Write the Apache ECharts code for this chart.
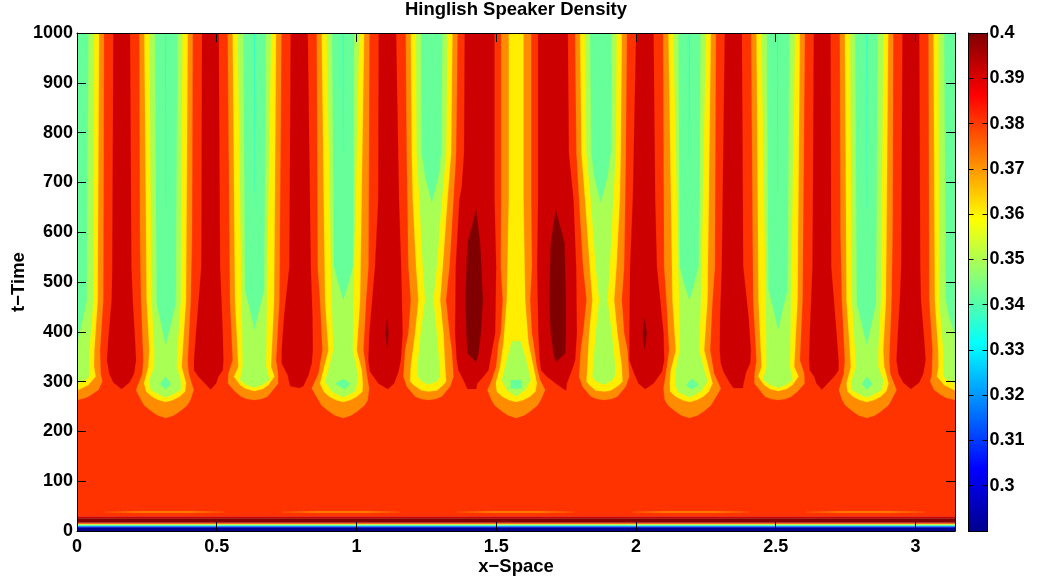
<!DOCTYPE html>
<html><head><meta charset="utf-8">
<style>html,body{margin:0;padding:0;background:#fff}#c{width:1050px;height:583px}</style>
<script src="https://cdn.jsdelivr.net/npm/echarts@6/dist/echarts.min.js"></script>
</head><body><div id="c"></div>
<script>
const titleText = 'Hinglish Speaker Density';
const xName = 'x\u2212Space';
const yName = 't\u2212Time';
const xMax = Math.PI;
const yMax = 1000;
const colorbarMin = 0.29;
const colorbarMax = 0.4;

// contour level colours
const cNavy='#00008c', cRed='#ff3300', cDark='#cc0000', cDarkest='#800000', cOrange='#ff8c00',
      cYellow='#ffee00', cGreen='#aaff55', cMint='#66ff99', cCyan='#22ffdd';

// jet colour stops of the colour bar
const jetStops = [[0,'#00008f'],[0.125,'#0000ff'],[0.375,'#00ffff'],[0.625,'#ffff00'],[0.875,'#ff0000'],[1,'#800000']];

// horizontal layers near t = 0: [tLow, tHigh, colour]
const bottomBands = [
 [0,7.4,cNavy],[7.4,8.4,'#0000ff'],[8.4,9.4,'#0055ff'],[9.4,10.4,'#00aaff'],[10.4,11.4,cCyan],
 [11.4,12.4,cMint],[12.4,13.4,cGreen],[13.4,14.4,cYellow],[14.4,15.2,cOrange],[15.2,16.9,cRed],
 [16.9,25.5,cDarkest],[25.5,29.6,cDark],[29.6,1000,cRed]
];

// thin lenses of orange at t ~ 38: rows [t, xLeft, xRight]
const lensRegions = [
 [[36.4,0.23,0.40],[38,0.1002,0.5297],[39.8,0.23,0.40]],
 [[36.4,0.86,1.03],[38,0.7326,1.156],[39.8,0.86,1.03]],
 [[36.4,1.49,1.65],[38,1.359,1.7806],[39.8,1.49,1.65]],
 [[36.4,2.11,2.28],[38,1.9853,2.4087],[39.8,2.11,2.28]],
 [[36.4,2.74,2.90],[38,2.609,3.035],[39.8,2.74,2.90]]
];

// each region: rows of [t, xLeft, xRight]
const orangeRegions = [
 [[1000,0,.0966],[464,0,.094],[363,0,.0823],[316,0,.0847],[300,0,.0907],[283,0,.0764],[273,0,.05],[267,0,.03],[263,0,0]],
 [[1000,.2231,.414],[598,.2255,.4116],[464,.2291,.4068],[343,.2374,.3961],[316,.2338,.3997],[283,.2112,.4176],[263,.2291,.4057],[252,.241,.3938],[240,.2673,.3675],[232,.2888,.346],[227,.3174,.3174]],
 [[1000,.5393,.7313],[464,.5476,.7242],[343,.5571,.7122],[316,.5416,.7194],[296,.5404,.7194],[280,.5655,.6967],[270,.587,.6824],[265,.6087,.6607],[263,.6347,.6347]],
 [[1000,.8578,1.0463],[530,.8614,1.0427],[464,.8697,1.0344],[363,.8781,1.0248],[316,.8638,1.0367],[286,.8399,1.0451],[263,.8637,1.0403],[252,.8756,1.0284],[240,.9019,1.0021],[232,.9234,.9806],[227,.952,.952]],
 [[1000,1.1763,1.3613],[759,1.1799,1.3565],[665,1.1823,1.347],[531,1.1859,1.3327],[464,1.1943,1.3204],[397,1.1859,1.3327],[363,1.174,1.341],[310,1.168,1.347],[290,1.1799,1.3351],[270,1.2098,1.3052],[265,1.2315,1.2835],[263,1.2575,1.2575]],
 [[1000,1.5176,1.6249],[665,1.5176,1.6249],[531,1.5164,1.6273],[464,1.5235,1.6213],[397,1.5164,1.6273],[377,1.508,1.6333],[330,1.5,1.6453],[303,1.4841,1.6572],[283,1.4686,1.6751],[263,1.4829,1.6595],[252,1.4948,1.6476],[240,1.5211,1.6213],[232,1.5426,1.5998],[227,1.5712,1.5712]],
 [[1000,1.7823,1.9673],[759,1.7871,1.9637],[665,1.7966,1.9613],[531,1.8109,1.9577],[464,1.8232,1.9493],[397,1.8109,1.9577],[363,1.8026,1.9696],[310,1.7966,1.9756],[290,1.8085,1.9637],[270,1.8384,1.9338],[265,1.8601,1.9121],[263,1.8861,1.8861]],
 [[1000,2.0973,2.2858],[530,2.1009,2.2822],[464,2.1092,2.2739],[363,2.1188,2.2655],[316,2.1069,2.2798],[286,2.0985,2.3037],[263,2.1033,2.2799],[252,2.1152,2.268],[240,2.1415,2.2417],[232,2.163,2.2202],[227,2.1916,2.1916]],
 [[1000,2.4123,2.6043],[464,2.4194,2.596],[343,2.4314,2.5865],[316,2.4242,2.602],[296,2.4242,2.6032],[280,2.4469,2.5781],[270,2.4612,2.5566],[265,2.4829,2.5349],[263,2.5089,2.5089]],
 [[1000,2.7296,2.9205],[598,2.732,2.9181],[464,2.7368,2.9145],[343,2.7475,2.9062],[316,2.7439,2.9098],[283,2.726,2.9324],[263,2.7379,2.9145],[252,2.7498,2.9026],[240,2.7761,2.8763],[232,2.7976,2.8548],[227,2.8262,2.8262]],
 [[1000,3.047,3.1416],[464,3.0496,3.1416],[363,3.0613,3.1416],[316,3.0589,3.1416],[300,3.0529,3.1416],[283,3.0672,3.1416],[273,3.0916,3.1416],[267,3.1116,3.1416],[263,3.1416,3.1416]]
];
const yellowRegions = [
 [[1000,0,.0787],[464,0,.074],[363,0,.062],[330,0,.0608],[310,0,.0668],[293,0,.0406],[282,0,0]],
 [[1000,.241,.3961],[464,.2493,.3901],[363,.2589,.3782],[330,.2553,.3746],[296,.2398,.3901],[280,.2482,.3866],[270,.2673,.3675],[263,.2912,.3436],[259,.3174,.3174]],
 [[1000,.5571,.7122],[464,.5655,.7051],[330,.5774,.6943],[310,.5619,.7063],[293,.5835,.6848],[285,.6047,.6647],[281,.6347,.6347]],
 [[1000,.8757,1.0272],[464,.8876,1.0129],[363,.8996,1.001],[323,.8817,1.0189],[296,.8697,1.0225],[280,.8828,1.0212],[270,.9019,1.0021],[263,.9258,.9782],[259,.952,.952]],
 [[1000,1.1943,1.3434],[759,1.198,1.3386],[665,1.2015,1.3255],[531,1.2133,1.3087],[464,1.2217,1.2993],[397,1.2098,1.3111],[330,1.1943,1.3171],[300,1.1919,1.3207],[292,1.2061,1.3087],[282,1.2336,1.2873],[280,1.2575,1.2575]],
 [[1000,1.545,1.5975],[665,1.545,1.5975],[464,1.5379,1.6035],[377,1.5259,1.6154],[330,1.514,1.6333],[296,1.4985,1.6453],[280,1.502,1.6404],[270,1.5211,1.6213],[263,1.545,1.5974],[259,1.5712,1.5712]],
 [[1000,1.8002,1.9493],[759,1.805,1.9456],[665,1.8181,1.9421],[531,1.8349,1.9303],[464,1.8443,1.9219],[397,1.8325,1.9338],[330,1.8265,1.9493],[300,1.8229,1.9517],[292,1.8349,1.9375],[282,1.8563,1.91],[280,1.8861,1.8861]],
 [[1000,2.1164,2.2679],[464,2.1307,2.256],[363,2.1426,2.244],[323,2.1247,2.2619],[296,2.1211,2.2739],[280,2.1224,2.2608],[270,2.1415,2.2417],[263,2.1654,2.2178],[259,2.1916,2.1916]],
 [[1000,2.4314,2.5865],[464,2.4385,2.5781],[330,2.4493,2.5662],[310,2.4373,2.5817],[293,2.4588,2.5601],[285,2.4789,2.5389],[281,2.5089,2.5089]],
 [[1000,2.7475,2.9026],[464,2.7535,2.8943],[363,2.7654,2.8847],[330,2.769,2.8883],[296,2.7535,2.9038],[280,2.757,2.8954],[270,2.7761,2.8763],[263,2.8,2.8524],[259,2.8262,2.8262]],
 [[1000,3.0649,3.1416],[464,3.0696,3.1416],[363,3.0816,3.1416],[330,3.0828,3.1416],[310,3.0768,3.1416],[293,3.103,3.1416],[282,3.1416,3.1416]]
];
const greenRegions = [
 [[1000,0,.0608],[464,0,.0585],[363,0,.0441],[310,0,.043],[303,0,.03],[296,0,0]],
 [[1000,.2589,.377],[464,.2672,.371],[363,.2768,.3591],[330,.2768,.3567],[303,.2589,.371],[283,.2637,.371],[273,.2971,.3388],[268,.3174,.3174]],
 [[1000,.575,.6943],[464,.5894,.6788],[330,.5929,.6764],[303,.5834,.6884],[293,.6073,.6621],[288,.6347,.6347]],
 [[1000,.8936,1.0093],[464,.9115,.989],[363,.9174,.9866],[323,.8996,1.001],[300,.8876,1.0045],[280,.9115,.9949],[268,.952,.952]],
 [[1000,1.2133,1.3255],[759,1.2157,1.3207],[665,1.2253,1.3053],[531,1.2372,1.2873],[464,1.2456,1.2753],[397,1.23,1.2873],[330,1.218,1.2968],[310,1.2193,1.2991],[300,1.2336,1.2873],[294,1.2575,1.2575]],
 [[381,1.5558,1.588],[343,1.5379,1.607],[303,1.5199,1.6237],[283,1.5379,1.6035],[270,1.5712,1.5712]],
 [[1000,1.8181,1.9303],[759,1.8229,1.9279],[665,1.8383,1.9183],[531,1.8563,1.9064],[464,1.8683,1.898],[397,1.8563,1.9136],[330,1.8468,1.9256],[310,1.8445,1.9243],[300,1.8563,1.91],[294,1.8861,1.8861]],
 [[1000,2.1343,2.25],[464,2.1546,2.2321],[363,2.157,2.2262],[323,2.1426,2.244],[300,2.1391,2.256],[280,2.1487,2.2321],[268,2.1916,2.1916]],
 [[1000,2.4493,2.5686],[464,2.4648,2.5542],[330,2.4672,2.5507],[303,2.4552,2.5602],[293,2.4815,2.5363],[288,2.5089,2.5089]],
 [[1000,2.7666,2.8847],[464,2.7726,2.8764],[363,2.7845,2.8668],[330,2.7869,2.8668],[303,2.7726,2.8847],[283,2.7726,2.8799],[273,2.8048,2.8465],[268,2.8262,2.8262]],
 [[1000,3.0828,3.1416],[464,3.0851,3.1416],[363,3.0995,3.1416],[310,3.1006,3.1416],[303,3.1136,3.1416],[296,3.1416,3.1416]]
];
const mintRegions = [
 [[1000,0,.0406],[464,0,.0346],[430,0,.0227],[377,0,0]],
 [[1000,.2792,.3591],[457,.2851,.3531],[373,.3174,.3174]],
 [[310,.3174,.3174],[295,.2971,.3352],[284,.3174,.3174]],
 [[1000,.5953,.6752],[484,.6013,.6693],[444,.6192,.6514],[404,.6347,.6347]],
 [[1000,.9127,.9914],[531,.9198,.9866],[497,.9353,.9711],[464,.952,.952]],
 [[305,.9532,.9532],[296,.9234,.9771],[284,.9592,.9592]],
 [[1000,1.2312,1.3076],[759,1.2336,1.3028],[712,1.2456,1.2932],[659,1.2694,1.2694]],
 [[303,1.5521,1.5915],[286,1.5521,1.5915]],
 [[1000,1.836,1.9124],[759,1.8408,1.91],[712,1.8504,1.898],[659,1.8742,1.8742]],
 [[1000,2.1522,2.2309],[531,2.157,2.2238],[497,2.1725,2.2083],[464,2.1916,2.1916]],
 [[306,2.2,2.2],[293,2.1797,2.2238],[284,2.2,2.2]],
 [[1000,2.4684,2.5483],[484,2.4743,2.5423],[444,2.4922,2.5244],[404,2.5089,2.5089]],
 [[1000,2.7845,2.8644],[457,2.7905,2.8585],[373,2.8262,2.8262]],
 [[310,2.8263,2.8263],[295,2.8084,2.8465],[284,2.8263,2.8263]],
 [[1000,3.103,3.1416],[464,3.109,3.1416],[430,3.1209,3.1416],[395,3.1416,3.1416]]
];
const cyanRegions = [
 [[1000,.3162,.3186],[650,.3174,.3174]],
 [[1000,.6335,.6359],[680,.6347,.6347]],
 [[1000,.951,.953],[760,.952,.952]],
 [[1000,2.1893,2.1917],[750,2.1905,2.1905]],
 [[1000,2.5054,2.5078],[680,2.5066,2.5066]],
 [[1000,2.825,2.8274],[650,2.8262,2.8262]]
];
const darkRegions = [
 [[1000,.13,.1897],[530,.1265,.1945],[464,.1241,.1992],[383,.1121,.2076],[343,.1074,.2112],[316,.1157,.204],[298,.13,.1873],[285,.1599,.1599]],
 [[1000,.4474,.507],[530,.445,.5118],[397,.4259,.5214],[343,.4188,.5237],[323,.4188,.5214],[310,.4343,.5058],[296,.4581,.4975],[284,.4784,.4784]],
 [[1000,.7647,.8256],[531,.76,.8363],[430,.7409,.8423],[363,.7325,.8435],[337,.7325,.8399],[313,.754,.828],[291,.7623,.81],[287,.7958,.7958]],
 [[1000,1.0797,1.1417],[665,1.078,1.152],[531,1.0665,1.1597],[397,1.0463,1.165],[343,1.0427,1.1585],[320,1.0487,1.1501],[296,1.0785,1.1346],[285,1.112,1.112]],
 [[1000,1.3875,1.4937],[759,1.3851,1.4937],[692,1.3767,1.4937],[665,1.3684,1.4937],[531,1.3553,1.4997],[397,1.3529,1.4961],[343,1.3589,1.4782],[323,1.3648,1.4723],[310,1.3767,1.4544],[296,1.3886,1.432],[285,1.3971,1.4281]],
 [[1000,1.65,1.7562],[759,1.65,1.7597],[665,1.65,1.7764],[531,1.6465,1.786],[397,1.6512,1.7884],[343,1.6559,1.7824],[323,1.6607,1.7705],[310,1.681,1.7621],[296,1.7133,1.7526],[283,1.7466,1.7502]],
 [[1000,2.0007,2.0628],[665,1.9888,2.0687],[531,1.9792,2.0747],[397,1.9769,2.0986],[343,1.9769,2.101],[320,1.9912,2.0926],[296,2.0091,2.0628],[285,2.0329,2.0329]],
 [[1000,2.318,2.3789],[531,2.3073,2.3836],[430,2.3013,2.4027],[363,2.3001,2.4111],[337,2.3037,2.4087],[320,2.3133,2.3945],[296,2.3372,2.3848],[287,2.3492,2.3825]],
 [[1000,2.6366,2.6962],[530,2.6318,2.6986],[397,2.6222,2.7177],[343,2.6199,2.7248],[323,2.6222,2.7248],[310,2.6378,2.7093],[296,2.6461,2.6855],[284,2.6652,2.6652]],
 [[1000,2.9539,3.0136],[530,2.9491,3.0171],[464,2.9444,3.0195],[383,2.936,3.0315],[343,2.9324,3.0362],[316,2.9396,3.0279],[298,2.9563,3.0136],[285,2.9837,2.9837]]
];
const darkestRegions = [
 [[427,1.1095,1.1095],[397,1.1048,1.1143],[365,1.1095,1.1095]],
 [[645,1.428,1.428],[578,1.3971,1.4424],[464,1.3899,1.4521],[397,1.3935,1.4448],[357,1.3971,1.4365],[339,1.428,1.428]],
 [[645,1.7133,1.7133],[578,1.6953,1.7443],[464,1.6893,1.7491],[397,1.6953,1.7491],[357,1.7049,1.7467],[339,1.7133,1.7133]],
 [[427,2.0305,2.0305],[397,2.0246,2.0389],[365,2.0305,2.0305]]
];

const fontFamily = '"Liberation Sans", Arial, sans-serif';
const tickText = {color:'#000', fontFamily, fontWeight:'bold', fontSize:18};

const polygons = [];
bottomBands.forEach(b => polygons.push({color:b[2], rows:[[b[1],0,xMax],[b[0],0,xMax]]}));
const layers = [[lensRegions,cOrange],[orangeRegions,cOrange],[yellowRegions,cYellow],[greenRegions,cGreen],
                [mintRegions,cMint],[cyanRegions,cCyan],[darkRegions,cDark],[darkestRegions,cDarkest]];
layers.forEach(l => l[0].forEach(rows => polygons.push({color:l[1], rows})));

function renderContour(params, api) {
  const p = polygons[api.value(0)];
  const left = p.rows.map(r => api.coord([r[1], r[0]]));
  const right = p.rows.slice().reverse().map(r => api.coord([r[2], r[0]]));
  return {type:'polygon', shape:{points:left.concat(right)},
          style:{fill:p.color, stroke:p.color, lineWidth:0.2}};
}
function renderColorbar(params, api) {
  const top = api.coord([0, colorbarMax]);
  const bottom = api.coord([1, colorbarMin]);
  return {type:'rect', shape:{x:top[0], y:top[1], width:bottom[0]-top[0], height:bottom[1]-top[1]},
    style:{fill:new echarts.graphic.LinearGradient(0,1,0,0,jetStops.map(s=>({offset:s[0],color:s[1]})))}};
}

const lineBlack = {show:true, onZero:false, lineStyle:{color:'#000', width:1}};
const tickMain = {show:true, inside:true, length:9, lineStyle:{color:'#000', width:1}};
const tickBar = {show:true, inside:true, length:5, lineStyle:{color:'#000', width:1}};

const option = {
  animation:false,
  backgroundColor:'#fff',
  title:{text:titleText, left:516, top:0, padding:0, textAlign:'center',
         textStyle:{color:'#000', fontFamily, fontWeight:'bold', fontSize:18.5}},
  grid:[
    {left:77, top:33, width:878, height:498, containLabel:false, outerBoundsMode:'none'},
    {left:968.5, top:33, width:19, height:498, containLabel:false, outerBoundsMode:'none'}
  ],
  xAxis:[
    {gridIndex:0, type:'value', min:0, max:xMax, interval:0.5, position:'bottom', z:10,
     name:xName, nameLocation:'middle', nameGap:26, nameMoveOverlap:false,
     nameTextStyle:{color:'#000', fontFamily, fontWeight:'bold', fontSize:18.5},
     axisLine:lineBlack, axisTick:tickMain, splitLine:{show:false},
     axisLabel:Object.assign({margin:7, showMaxLabel:false, formatter:v=>String(v)},tickText)},
    {gridIndex:0, type:'value', min:0, max:xMax, interval:0.5, position:'top', z:10,
     axisLine:lineBlack, axisTick:tickMain, splitLine:{show:false}, axisLabel:{show:false}},
    {gridIndex:1, type:'value', min:0, max:1, position:'bottom', z:10,
     axisLine:lineBlack, axisTick:{show:false}, splitLine:{show:false}, axisLabel:{show:false}},
    {gridIndex:1, type:'value', min:0, max:1, position:'top', z:10,
     axisLine:lineBlack, axisTick:{show:false}, splitLine:{show:false}, axisLabel:{show:false}}
  ],
  yAxis:[
    {gridIndex:0, type:'value', min:0, max:yMax, interval:100, position:'left', z:10,
     name:yName, nameLocation:'middle', nameGap:49, nameRotate:90, nameMoveOverlap:false,
     nameTextStyle:{color:'#000', fontFamily, fontWeight:'bold', fontSize:18.5},
     axisLine:lineBlack, axisTick:tickMain, splitLine:{show:false},
     axisLabel:Object.assign({margin:4, formatter:v=>String(v)},tickText)},
    {gridIndex:0, type:'value', min:0, max:yMax, interval:100, position:'right', z:10,
     axisLine:lineBlack, axisTick:tickMain, splitLine:{show:false}, axisLabel:{show:false}},
    {gridIndex:1, type:'value', min:colorbarMin, max:colorbarMax, interval:0.01, position:'left', z:10,
     axisLine:lineBlack, axisTick:tickBar, splitLine:{show:false}, axisLabel:{show:false}},
    {gridIndex:1, type:'value', min:colorbarMin, max:colorbarMax, interval:0.01, position:'right', z:10,
     axisLine:lineBlack, axisTick:tickBar, splitLine:{show:false},
     axisLabel:Object.assign({margin:2, showMinLabel:false, formatter:v=>String(+v.toFixed(2))},tickText)}
  ],
  series:[
    {type:'custom', xAxisIndex:0, yAxisIndex:0, clip:true, silent:true, renderItem:renderContour,
     data:polygons.map((p,i)=>[i])},
    {type:'custom', xAxisIndex:2, yAxisIndex:2, clip:true, silent:true, renderItem:renderColorbar,
     data:[[0,colorbarMin]]}
  ]
};
echarts.init(document.getElementById('c'),null,{renderer:'canvas'}).setOption(option);
</script></body></html>
